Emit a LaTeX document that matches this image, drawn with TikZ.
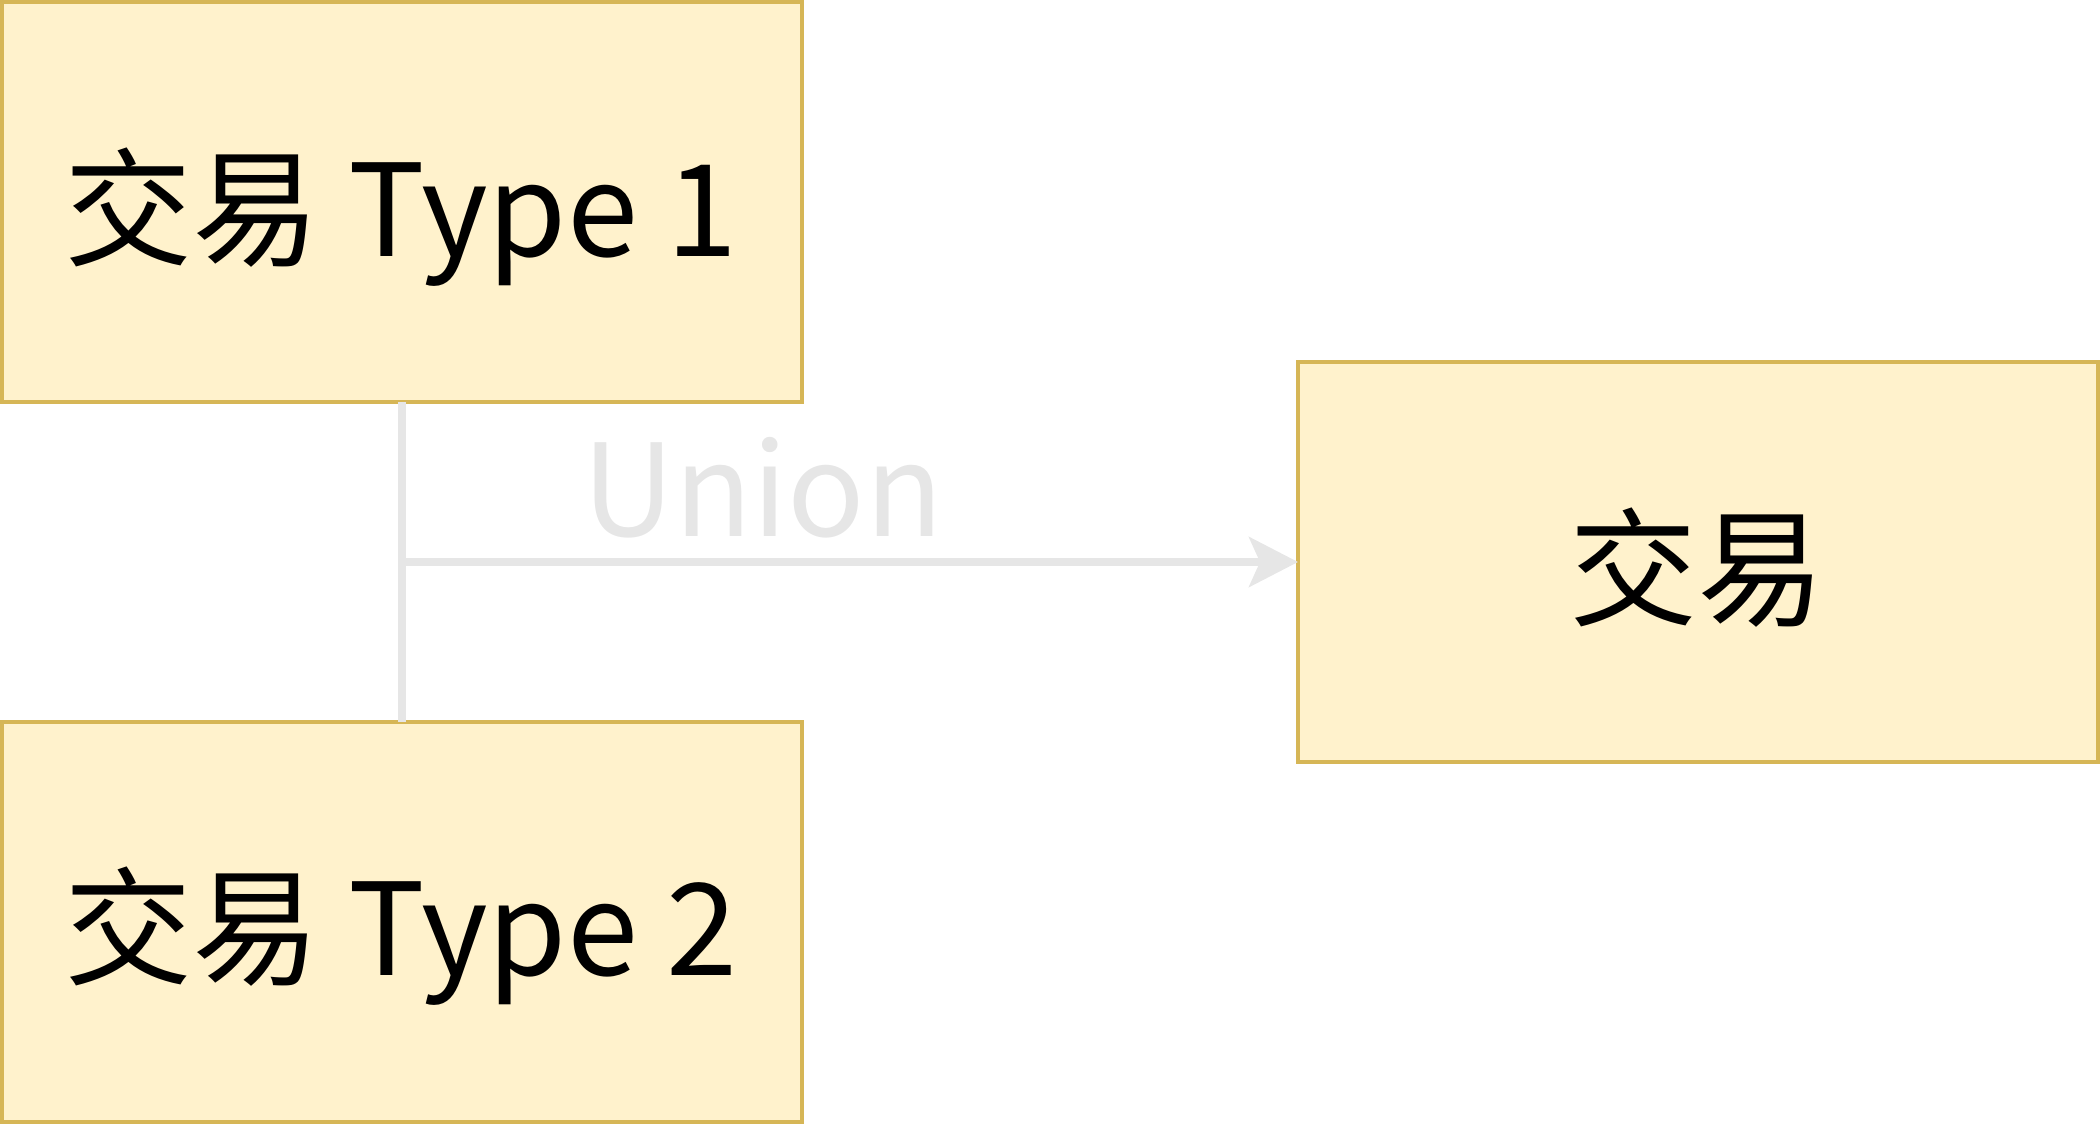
\documentclass[tikz,border=0pt]{standalone}
\usepackage{fontspec}
\setmainfont{Noto Sans CJK SC}
\usetikzlibrary{arrows.meta,calc}
\definecolor{boxfill}{HTML}{FFF2CC}
\definecolor{boxline}{HTML}{D6B656}
\definecolor{conncol}{HTML}{E6E6E6}
\tikzset{
  box/.style={draw=boxline, fill=boxfill, line width=1.6pt, rectangle,
    minimum width=400pt, minimum height=200pt, inner sep=0pt, outer sep=0pt},
  txt/.style={font=\fontsize{64}{77}\selectfont, text=black, inner sep=0pt, anchor=base},
  conn/.style={draw=conncol, line width=3.6pt},
  lbl/.style={font=\fontsize{64}{77}\selectfont, text=conncol, inner sep=0pt, anchor=base}
}
\begin{document}
\begin{tikzpicture}[x=0.5pt,y=-0.5pt]
\useasboundingbox (0,0) rectangle (2100,1124);
\node[box] (b1) at (402,202) {};
\node[box] (b2) at (402,922) {};
\node[box] (b3) at (1698,562) {};
\node[txt] (t1) at (401,256.5) {交易 Type 1};
\node[txt] (t2) at (401,975.7) {交易 Type 2};
\node[txt] (t3) at (1697,616.5) {交易};
\coordinate (j) at ($(b1.south)!0.5!(b2.north)$);
\draw[conn] (b1.south) -- (b2.north);
\draw[conn, -{Stealth[length=24.5pt, width=25pt, inset=5.5pt]}] (j) -- (b3.west);
\node[lbl] (u) at (763,536) {Union};
\end{tikzpicture}
\end{document}
